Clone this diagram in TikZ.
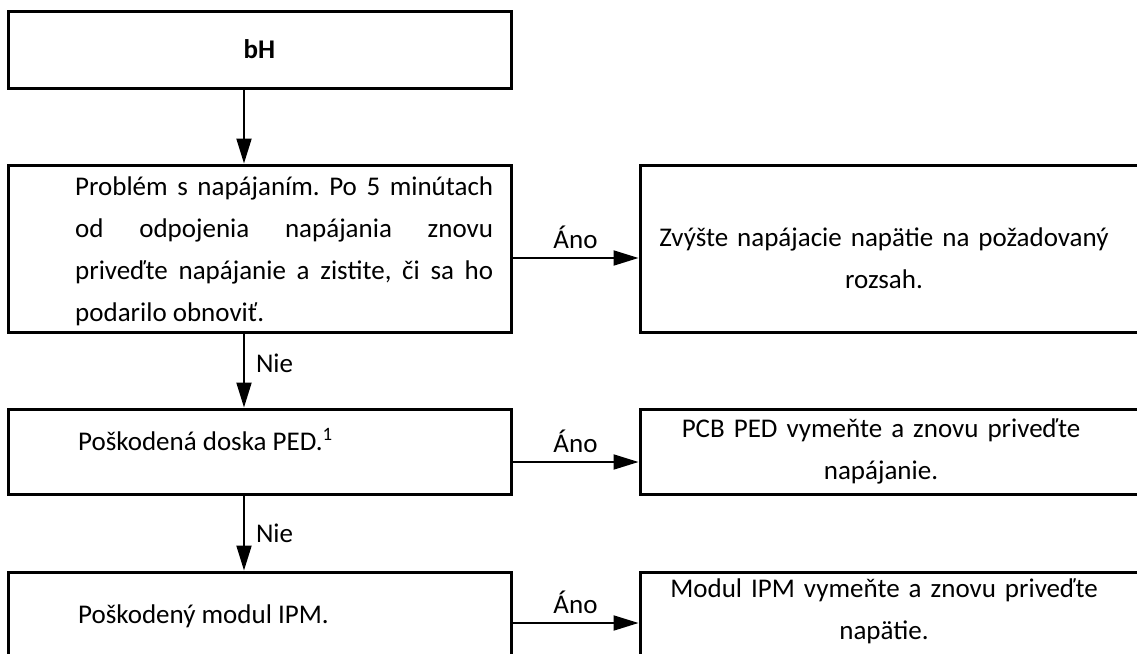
\documentclass[tikz,border=0pt]{standalone}
\usepackage{fontspec}
\setmainfont{Carlito}
\usetikzlibrary{arrows.meta}
\frenchspacing
\begin{document}
\begin{tikzpicture}[x=1pt,y=-1pt,
  box/.style={draw, line width=3pt, inner sep=0pt, rectangle},
  txt/.style={inner sep=0pt, font=\fontsize{27}{42}\selectfont},
  conn/.style={line width=2pt, -{Triangle[length=25pt,width=15pt]}},
  lbl/.style={inner sep=0pt, font=\fontsize{27}{32}\selectfont}]
\useasboundingbox (0,0) rectangle (1137,653);
\clip (0,0) rectangle (1137,653);
% boxes
\node[box, minimum width=503pt, minimum height=77pt, font=\fontsize{27}{32}\selectfont\bfseries] (b1) at (259.5,49.5) {bH};
\node[box, minimum width=503pt, minimum height=167pt] (b2) at (259.5,248.5) {};
\node[box, minimum width=540pt, minimum height=167pt] (r1) at (910,248.5) {};
\node[box, minimum width=503pt, minimum height=85pt] (b3) at (259.5,451.5) {};
\node[box, minimum width=540pt, minimum height=85pt] (r2) at (910,451.5) {};
\node[box, minimum width=503pt, minimum height=88pt] (b4) at (259.5,616) {};
\node[box, minimum width=540pt, minimum height=88pt] (r3) at (910,616) {};
% texts
\node[txt, anchor=base west, text width=418pt, align=justify] (t2) at (75,195)
  {\hyphenpenalty=10000\exhyphenpenalty=10000 Problém s napájaním. Po 5 minútach\linebreak od odpojenia napájania znovu\linebreak priveďte napájanie a zistite, či sa ho\linebreak podarilo obnoviť.};
\node[txt, anchor=base, text width=480pt, align=center] (tr1) at (884,246)
  {Zvýšte napájacie napätie na požadovaný\\rozsah.};
\node[txt, anchor=base west] (t3) at (78,450) {Poškodená doska PED.\textsuperscript{1}};
\node[txt, anchor=base, text width=480pt, align=center] (tr2) at (881,437)
  {PCB PED vymeňte a znovu priveďte\\napájanie.};
\node[txt, anchor=base west] (t4) at (78,623) {Poškodený modul IPM.};
\node[txt, anchor=base, text width=480pt, align=center] (tr3) at (884,597)
  {Modul IPM vymeňte a znovu priveďte\\napätie.};
% connectors
\draw[conn] ([xshift=-15.5pt]b1.south) -- ([xshift=-15.5pt]b2.north);
\draw[conn] ([xshift=-15.5pt]b2.south) -- ([xshift=-15.5pt]b3.north)
  node[lbl, pos=0.53, anchor=base west, xshift=11pt] (n1) {Nie};
\draw[conn] ([xshift=-15.5pt]b3.south) -- ([xshift=-15.5pt]b4.north)
  node[lbl, pos=0.63, anchor=base west, xshift=11pt] (n2) {Nie};
\draw[conn] ([yshift=-9.5pt]b2.east) -- ([yshift=-9.5pt]r1.west)
  node[lbl, midway, anchor=base, yshift=10pt] (a1) {Áno};
\draw[conn] ([yshift=-10.5pt]b3.east) -- ([yshift=-10.5pt]r2.west)
  node[lbl, midway, anchor=base, yshift=10pt] (a2) {Áno};
\draw[conn] ([yshift=-7pt]b4.east) -- ([yshift=-7pt]r3.west)
  node[lbl, midway, anchor=base, yshift=10pt] (a3) {Áno};
\end{tikzpicture}
\end{document}
